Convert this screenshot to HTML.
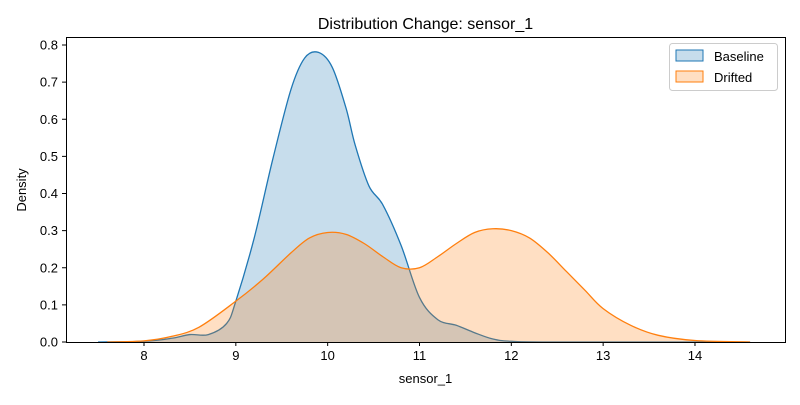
<!DOCTYPE html>
<html><head><meta charset="utf-8"><style>
body{margin:0;background:#fff;}
svg text{font-family:"Liberation Sans","DejaVu Sans",sans-serif;fill:#000;}
</style></head><body>
<svg id="chart" width="800" height="400" xmlns="http://www.w3.org/2000/svg">
<rect width="800" height="400" fill="#fff"/>
<text x="425.5" y="29" font-size="16" text-anchor="middle">Distribution Change: sensor_1</text>
<g id="plot"></g>
<g id="axes"></g>
<rect x="66.5" y="37.5" width="719" height="305" fill="none" stroke="#000" stroke-width="1"/>
<text x="425.5" y="383" font-size="13" text-anchor="middle">sensor_1</text>
<text transform="translate(26,190) rotate(-90)" font-size="13" text-anchor="middle">Density</text>
<g>
<rect x="669.5" y="43.5" width="108" height="47" rx="3" fill="#fff" fill-opacity="0.8" stroke="#ccc"/>
<rect x="676" y="50" width="27" height="11" fill="rgba(31,119,180,0.25)" stroke="#1f77b4"/>
<text x="714" y="61" font-size="13">Baseline</text>
<rect x="676" y="71" width="27" height="11" fill="rgba(255,127,14,0.25)" stroke="#ff7f0e"/>
<text x="714" y="82" font-size="13">Drifted</text>
</g>
</svg>
<script>
const baseX=[7.5,8,8.3,8.5,8.7,8.9,9.0,9.2,9.4,9.6,9.75,9.9,10.05,10.2,10.3,10.45,10.6,10.8,11.0,11.2,11.4,11.6,11.8,12.0,12.5,14.6];
const baseY=[0,0.002,0.01,0.02,0.02,0.05,0.11,0.28,0.49,0.68,0.765,0.78,0.74,0.63,0.53,0.42,0.37,0.26,0.12,0.06,0.045,0.025,0.008,0.002,0,0];
const driftX=[7.6,8.0,8.3,8.6,9.0,9.3,9.6,9.8,10.0,10.2,10.4,10.6,10.8,11.0,11.2,11.4,11.6,11.8,12.0,12.2,12.4,12.6,12.8,13.0,13.3,13.6,14.0,14.6];
const driftY=[0,0.003,0.015,0.04,0.11,0.17,0.24,0.28,0.295,0.29,0.265,0.23,0.2,0.2,0.23,0.265,0.295,0.305,0.3,0.28,0.24,0.19,0.14,0.09,0.045,0.018,0.004,0];
const xTicks=[8,9,10,11,12,13,14];
const yTicks=[0,0.1,0.2,0.3,0.4,0.5,0.6,0.7,0.8];
const NS="http://www.w3.org/2000/svg";
const sx=v=>144+(v-8)*91.83;
const sy=v=>342-v*371.25;
function path(xs,ys){
  const p=xs.map((x,i)=>[sx(x),sy(ys[i])]);
  let d="M"+p[0][0]+","+p[0][1];
  for(let i=0;i<p.length-1;i++){
    const p0=p[Math.max(0,i-1)],p1=p[i],p2=p[i+1],p3=p[Math.min(p.length-1,i+2)];
    const c1=[p1[0]+(p2[0]-p0[0])/6,p1[1]+(p2[1]-p0[1])/6];
    const c2=[p2[0]-(p3[0]-p1[0])/6,p2[1]-(p3[1]-p1[1])/6];
    d+=" C"+c1[0]+","+Math.min(342,c1[1])+" "+c2[0]+","+Math.min(342,c2[1])+" "+p2[0]+","+p2[1];
  }
  return {d,x0:p[0][0],x1:p[p.length-1][0]};
}
const plot=document.getElementById('plot');
function series(xs,ys,col,name){
  const r=path(xs,ys);
  const f=document.createElementNS(NS,'path');
  f.setAttribute('d',r.d+" L"+r.x1+",342 L"+r.x0+",342 Z");
  f.setAttribute('fill',col);f.setAttribute('fill-opacity','0.25');
  
  
  plot.appendChild(f);
  const l=document.createElementNS(NS,'path');
  l.setAttribute('d',r.d);l.setAttribute('fill','none');l.setAttribute('stroke',col);l.setAttribute('stroke-width','1.3');
  
  
  plot.appendChild(l);
}
series(baseX,baseY,'#1f77b4','baseline');
series(driftX,driftY,'#ff7f0e','drifted');
const ax=document.getElementById('axes');
xTicks.forEach(t=>{
  const l=document.createElementNS(NS,'line');
  l.setAttribute('x1',sx(t));l.setAttribute('x2',sx(t));l.setAttribute('y1',342);l.setAttribute('y2',346);l.setAttribute('stroke','#000');
  
  
  ax.appendChild(l);
  const tx=document.createElementNS(NS,'text');
  tx.setAttribute('x',sx(t));tx.setAttribute('y',360);tx.setAttribute('font-size','13');tx.setAttribute('text-anchor','middle');
  tx.textContent=t;
  
  
  ax.appendChild(tx);
});
yTicks.forEach(t=>{
  const l=document.createElementNS(NS,'line');
  l.setAttribute('x1',62);l.setAttribute('x2',66);l.setAttribute('y1',sy(t));l.setAttribute('y2',sy(t));l.setAttribute('stroke','#000');
  
  
  ax.appendChild(l);
  const tx=document.createElementNS(NS,'text');
  tx.setAttribute('x',58);tx.setAttribute('y',sy(t)+4.5);tx.setAttribute('font-size','13');tx.setAttribute('text-anchor','end');
  tx.textContent=t.toFixed(1);
  
  
  ax.appendChild(tx);
});
</script>
</body></html>
